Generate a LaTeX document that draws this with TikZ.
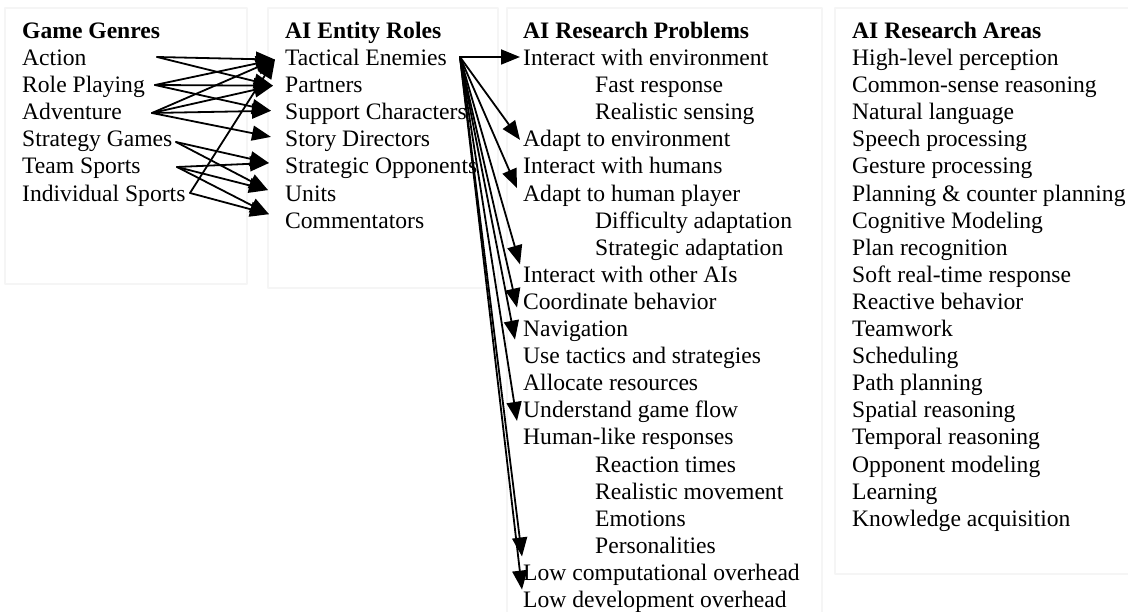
\documentclass[tikz,border=0pt]{standalone}
\usepackage{fontspec}
\setmainfont{Liberation Serif}
\usetikzlibrary{arrows.meta}
\begin{document}
\begin{tikzpicture}[x=1pt, y=-1pt, line join=round, line cap=round, >={Triangle[length=19pt,width=15pt]}]
	\tikzset{every node/.style={font=\fontsize{23.6}{27.1}\selectfont, inner sep=0pt, anchor=base west},
		head/.style={font=\fontsize{23.6}{27.1}\selectfont\bfseries},
		panel/.style={draw=black!4, line width=1.5pt},
		link/.style={->, line width=1.8pt}}
	\useasboundingbox (0,0) rectangle (1128,612);
	% panels
	\draw[panel] (5,8) rectangle (247,284);
	\draw[panel] (268,8) rectangle (498,288);
	\draw[panel] (507,8) rectangle (822,630);
	\draw[panel] (835,8) rectangle (1140,574);
	% headings
	\node[head] (gg) at (22,38.5) {Game Genres};
	\node[head] (er) at (285,38.5) {AI Entity Roles};
	\node[head] (rp) at (523,38.5) {AI Research Problems};
	\node[head] (ra) at (852,38.5) {AI Research Areas};
	% game genres
	\foreach \n/\t [count=\k] in {act/Action, rpg/Role Playing, adv/Adventure, sg/Strategy Games, ts/Team Sports, is/Individual Sports}
		\node (\n) at (22,{38.5+27.1*\k}) {\t};
	% entity roles
	\foreach \n/\t [count=\k] in {te/Tactical Enemies, pa/Partners, sc/Support Characters, sd/Story Directors, so/Strategic Opponents, un/Units, co/Commentators}
		\node (\n) at (285,{38.5+27.1*\k}) {\t};
	% research problems
	\foreach \n/\t/\x [count=\k] in {iwe/Interact with environment/523, fr/Fast response/595, rs/Realistic sensing/595,
		ate/Adapt to environment/523, iwh/Interact with humans/523, ahp/Adapt to human player/523,
		da/Difficulty adaptation/595, sa/Strategic adaptation/595, ioa/Interact with other AIs/523,
		cb/Coordinate behavior/523, nav/Navigation/523, uts/Use tactics and strategies/523,
		ar/Allocate resources/523, ugf/Understand game flow/523, hlr/Human-like responses/523,
		rt/Reaction times/595, rm/Realistic movement/595, emo/Emotions/595, per/Personalities/595,
		lco/Low computational overhead/523, ldo/Low development overhead/523}
		\node (\n) at (\x,{38.5+27.1*\k}) {\t};
	% research areas
	\foreach \n/\t [count=\k] in {hlp/High-level perception, csr/Common-sense reasoning, nl/Natural language,
		sp/Speech processing, gp/Gesture processing, pcp/Planning \& counter planning, cm/Cognitive Modeling,
		pr/Plan recognition, srt/Soft real-time response, rb/Reactive behavior, tw/Teamwork, sch/Scheduling,
		pp/Path planning, spr/Spatial reasoning, tr/Temporal reasoning, om/Opponent modeling,
		lrn/Learning, ka/Knowledge acquisition}
		\node (\n) at (852,{38.5+27.1*\k}) {\t};
	% arrow ends
	\coordinate (act-out) at (157,57);
	\coordinate (rpg-out) at (155,85);
	\coordinate (adv-out) at (152,113);
	\coordinate (sg-out) at (176,142);
	\coordinate (ts-out) at (177,167);
	\coordinate (is-out) at (190,193);
	\coordinate (te-out) at (460,57);
	\foreach \n/\dx/\dy in {te/10/6, pa/12/7, sc/14/9, sd/14/10, so/16/11, un/17/11, co/16/14,
		iwe/3/8.6, ate/3/7, ahp/6/13, ioa/3/18, cb/6/2, nav/8/-3, ugf/6/-3, lco/1/24, ldo/1/18}
		\coordinate (\n-in) at ([shift={(-\dx,-\dy)}]\n.base west);
	% links
	\foreach \s/\t in {act/te, act/pa, rpg/te, rpg/pa, rpg/sc, adv/te, adv/pa, adv/sc, adv/sd,
		sg/so, sg/un, ts/so, ts/un, ts/co, is/te, is/co,
		te/iwe, te/ate, te/ahp, te/ioa, te/cb, te/nav, te/ugf, te/lco, te/ldo}
		\draw[link] (\s-out) -- (\t-in);
\end{tikzpicture}
\end{document}
